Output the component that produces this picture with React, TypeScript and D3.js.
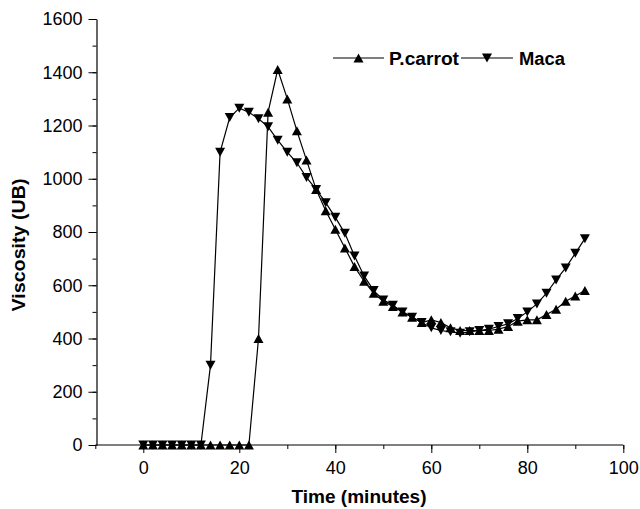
import React, { useEffect, useRef } from 'react'
import * as d3 from 'd3'

const times = d3.range(0, 93, 2)

const carrot = [
  0, 0, 0, 0, 0, 0, 0, 0, 0, 0, 0, 0, 400, 1250, 1410, 1300, 1180, 1070, 960, 880, 810, 740, 670, 615,
  570, 540, 520, 500, 480, 460, 470, 460, 440, 430, 430, 430, 430, 435, 445, 465, 470, 470, 490, 510,
  540, 560, 580,
]

const maca = [
  0, 0, 0, 0, 0, 0, 0, 300, 1100, 1230, 1265, 1250, 1225, 1195, 1145, 1100, 1060, 1005, 960, 910, 855,
  795, 710, 635, 580, 545, 525, 500, 480, 460, 440, 430, 425, 420, 425, 430, 435, 445, 455, 475, 500,
  530, 570, 620, 665, 720, 775,
]

const seriesNames = ['P.carrot', 'Maca']
const xTicks = [0, 20, 40, 60, 80, 100]
const yTicks = [0, 200, 400, 600, 800, 1000, 1200, 1400, 1600]

const FONT = '"Liberation Sans", Arial, sans-serif'

const triPath = (up: boolean) => {
  const w = 5
  const h = 4.5
  return up ? `M0,${-h}L${w},${h}L${-w},${h}Z` : `M0,${h}L${w},${-h}L${-w},${-h}Z`
}

const App = () => {
  const ref = useRef<SVGSVGElement | null>(null)

  useEffect(() => {
    const svg = d3.select(ref.current)
    svg.selectAll('*').remove()

    const x = d3.scaleLinear().domain([-10, 100]).range([95.3, 623.3])
    const y = d3.scaleLinear().domain([0, 1600]).range([445, 19])

    const g = svg.append('g')

    // minor ticks
    g.append('g')
      .attr('transform', 'translate(0,445)')
      .call(d3.axisBottom(x).tickValues(d3.range(-10, 101, 10)).tickSize(4).tickFormat(() => ''))
      .call((a) => a.select('.domain').remove())
    g.append('g')
      .attr('transform', 'translate(96.5,0)')
      .call(d3.axisLeft(y).tickValues(d3.range(0, 1601, 100)).tickSize(4).tickFormat(() => ''))
      .call((a) => a.select('.domain').remove())

    const xAxis = g
      .append('g')
      .attr('transform', 'translate(0,445)')
      .call(d3.axisBottom(x).tickValues(xTicks).tickSize(8).tickPadding(8).tickSizeOuter(0).tickFormat(d3.format('d')))
    xAxis.select('.domain').attr('d', `M${x(-10)},0H${x(100)}`)

    const yAxis = g
      .append('g')
      .attr('transform', 'translate(96.5,0)')
      .call(d3.axisLeft(y).tickValues(yTicks).tickSize(8).tickPadding(6).tickSizeOuter(0).tickFormat(d3.format('d')))

    for (const a of [xAxis, yAxis]) {
      a.selectAll('text').attr('font-family', FONT).attr('font-size', 18).attr('fill', '#000')
      a.select('.domain').attr('stroke', '#000').attr('stroke-width', 1.2)
    }
    g.selectAll('.tick line').attr('stroke', '#000')

    const line = d3
      .line<number>()
      .x((_, i) => x(times[i]))
      .y((d) => y(d))

    const data = [carrot, maca]
    data.forEach((values) => {
      g.append('path')
        .attr('d', line(values))
        .attr('fill', 'none')
        .attr('stroke', '#000')
        .attr('stroke-width', 1.2)
    })
    data.forEach((values, k) => {
      g.append('g')
        .selectAll('path')
        .data(values)
        .enter()
        .append('path')
        .attr('transform', (d, i) => `translate(${x(times[i])},${y(d)})`)
        .attr('d', triPath(k === 0))
        .attr('fill', '#000')
    })

    // legend
    const legend = g.append('g').attr('font-family', FONT).attr('font-weight', 'bold').attr('font-size', 18)
    const items = [
      { name: seriesNames[0], x0: 333, x1: 384, tx: 389, len: 70, up: true },
      { name: seriesNames[1], x0: 461, x1: 513, tx: 519, len: 46, up: false },
    ]
    items.forEach((it) => {
      legend
        .append('line')
        .attr('x1', it.x0)
        .attr('x2', it.x1)
        .attr('y1', 58)
        .attr('y2', 58)
        .attr('stroke', '#000')
        .attr('stroke-width', 1.2)
      legend
        .append('path')
        .attr('transform', `translate(${(it.x0 + it.x1) / 2},58)`)
        .attr('d', triPath(it.up))
      legend
        .append('text')
        .attr('x', it.tx)
        .attr('y', 65)
        .attr('textLength', it.len)
        .attr('lengthAdjust', 'spacingAndGlyphs')
        .text(it.name)
    })

    g.append('text')
      .attr('x', 359)
      .attr('y', 503)
      .attr('text-anchor', 'middle')
      .attr('font-family', FONT)
      .attr('font-weight', 'bold')
      .attr('font-size', 18)
      .attr('textLength', 135)
      .attr('lengthAdjust', 'spacingAndGlyphs')
      .text('Time (minutes)')

    g.append('text')
      .attr('transform', 'translate(25,245) rotate(-90)')
      .attr('text-anchor', 'middle')
      .attr('font-family', FONT)
      .attr('font-weight', 'bold')
      .attr('font-size', 18)
      .attr('textLength', 133)
      .attr('lengthAdjust', 'spacingAndGlyphs')
      .text('Viscosity (UB)')
  }, [])

  return (
    <svg
      ref={ref}
      width={640}
      height={509}
      style={{ position: 'absolute', left: 0, top: 0, background: '#fff' }}
    />
  )
}

export default App
